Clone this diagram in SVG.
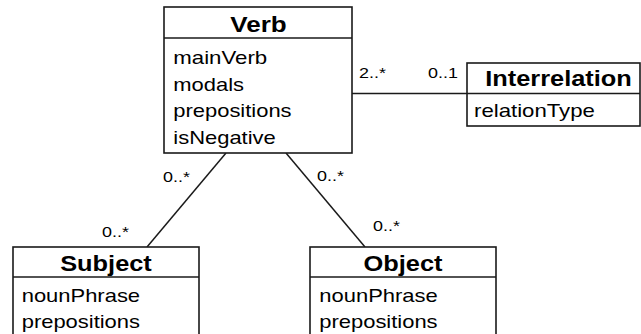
<svg xmlns="http://www.w3.org/2000/svg" width="641" height="334" viewBox="0 0 641 334">
  <style>
    .box { fill: #ffffff; stroke: #1a1a1a; stroke-width: 1.6; }
    .sep { stroke: #1a1a1a; stroke-width: 1.6; }
    .edge { stroke: #1a1a1a; stroke-width: 1.5; fill: none; }
    .title { font-family: "Liberation Sans", Arial, sans-serif; font-weight: bold; font-size: 21.5px; fill: #000; text-anchor: middle; }
    .attr { font-family: "Liberation Sans", Arial, sans-serif; font-size: 18.6px; fill: #000; }
    .mult { font-family: "Liberation Sans", Arial, sans-serif; font-size: 15.2px; fill: #000; }
  </style>
  <rect width="641" height="334" fill="#ffffff"/>

  <!-- associations -->
  <g id="connectors">
    <line class="edge" x1="352" y1="93.5" x2="467" y2="93.5"/>
    <line class="edge" x1="226" y1="153" x2="147" y2="247"/>
    <line class="edge" x1="286" y1="153" x2="365" y2="247"/>
    <text class="mult" x="359" y="78" textLength="26.9" lengthAdjust="spacingAndGlyphs">2..*</text>
    <text class="mult" x="428" y="78" textLength="29.9" lengthAdjust="spacingAndGlyphs">0..1</text>
    <text class="mult" x="163" y="182" textLength="26.9" lengthAdjust="spacingAndGlyphs">0..*</text>
    <text class="mult" x="102" y="237" textLength="26.9" lengthAdjust="spacingAndGlyphs">0..*</text>
    <text class="mult" x="317" y="181" textLength="26.9" lengthAdjust="spacingAndGlyphs">0..*</text>
    <text class="mult" x="373" y="231" textLength="26.9" lengthAdjust="spacingAndGlyphs">0..*</text>
  </g>

  <g id="verb">
    <rect class="box" x="164" y="7" width="188" height="146"/>
    <line class="sep" x1="164" y1="38" x2="352" y2="38"/>
    <text class="title" x="258.5" y="31.5" textLength="56.4" lengthAdjust="spacingAndGlyphs">Verb</text>
    <text class="attr" x="173.3" y="64" textLength="93.9" lengthAdjust="spacingAndGlyphs">mainVerb</text>
    <text class="attr" x="173.3" y="90.5" textLength="70.7" lengthAdjust="spacingAndGlyphs">modals</text>
    <text class="attr" x="173.3" y="117" textLength="118.3" lengthAdjust="spacingAndGlyphs">prepositions</text>
    <text class="attr" x="173.3" y="143.5" textLength="102.5" lengthAdjust="spacingAndGlyphs">isNegative</text>
  </g>

  <g id="interrelation">
    <rect class="box" x="467" y="63" width="173" height="63"/>
    <line class="sep" x1="467" y1="93.5" x2="640" y2="93.5"/>
    <text class="title" x="558.5" y="86" textLength="146.6" lengthAdjust="spacingAndGlyphs">Interrelation</text>
    <text class="attr" x="474" y="117" textLength="120.8" lengthAdjust="spacingAndGlyphs">relationType</text>
  </g>

  <g id="subject">
    <rect class="box" x="13" y="247" width="186" height="100"/>
    <line class="sep" x1="13" y1="277" x2="199" y2="277"/>
    <text class="title" x="106" y="270.5" textLength="91.6" lengthAdjust="spacingAndGlyphs">Subject</text>
    <text class="attr" x="21.7" y="302" textLength="118.4" lengthAdjust="spacingAndGlyphs">nounPhrase</text>
    <text class="attr" x="21.7" y="328" textLength="118.3" lengthAdjust="spacingAndGlyphs">prepositions</text>
  </g>

  <g id="object">
    <rect class="box" x="310" y="247" width="186" height="100"/>
    <line class="sep" x1="310" y1="277" x2="496" y2="277"/>
    <text class="title" x="403" y="270.5" textLength="79" lengthAdjust="spacingAndGlyphs">Object</text>
    <text class="attr" x="319.3" y="302" textLength="118.4" lengthAdjust="spacingAndGlyphs">nounPhrase</text>
    <text class="attr" x="319.3" y="328" textLength="118.3" lengthAdjust="spacingAndGlyphs">prepositions</text>
  </g>
</svg>
